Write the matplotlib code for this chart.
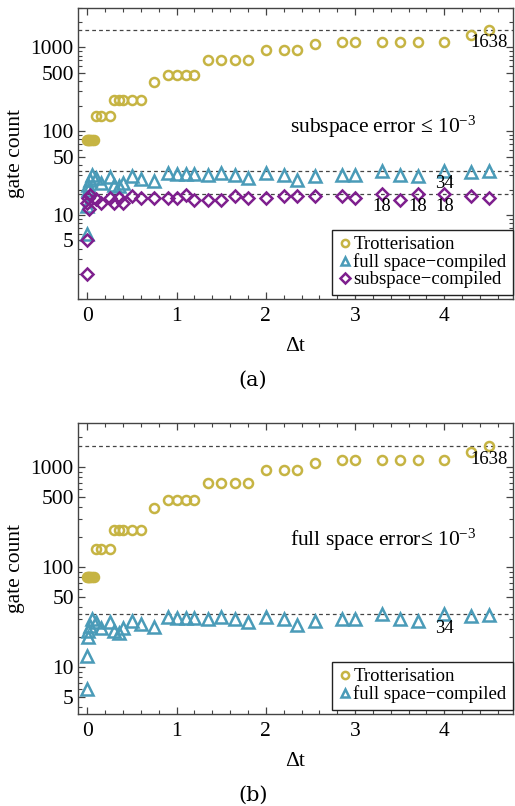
import matplotlib
matplotlib.use("Agg")
import matplotlib.pyplot as plt
from matplotlib.ticker import FixedLocator, NullFormatter, FixedFormatter

plt.rcParams['font.family'] = ['Liberation Serif', 'DejaVu Serif']
plt.rcParams['mathtext.fontset'] = 'custom'
plt.rcParams['mathtext.rm'] = 'Liberation Serif'
plt.rcParams['mathtext.it'] = 'Liberation Serif:italic'

# Trotterisation
trot_t = [0.0, 0.01, 0.02, 0.03, 0.05, 0.07, 0.1, 0.15, 0.25, 0.3, 0.35, 0.4, 0.5, 0.6,
          0.75, 0.9, 1.0, 1.1, 1.2, 1.35, 1.5, 1.65, 1.8, 2.0, 2.2, 2.35, 2.55, 2.85,
          3.0, 3.3, 3.5, 3.7, 4.0, 4.3, 4.5]
trot_n = [79, 79, 79, 79, 79, 79, 152, 152, 152, 234, 234, 234, 234, 234,
          387, 465, 465, 465, 465, 700, 700, 700, 700, 938, 938, 938, 1097, 1169,
          1169, 1169, 1169, 1169, 1169, 1415, 1638]

# full space-compiled
full_t = [0.0, 0.0, 0.005, 0.01, 0.025, 0.05, 0.1, 0.15, 0.25, 0.3, 0.35, 0.4, 0.5, 0.6,
          0.75, 0.9, 1.0, 1.1, 1.2, 1.35, 1.5, 1.65, 1.8, 2.0, 2.2, 2.35, 2.55, 2.85,
          3.0, 3.3, 3.5, 3.7, 4.0, 4.3, 4.5]
full_n = [6, 13, 20, 23, 26, 30.5, 28, 24.5, 28.5, 23, 22, 24.5, 29, 27,
          25.5, 32, 31, 31, 31, 30, 32, 30, 28, 32, 30, 26.5, 29, 30,
          30, 34, 30.5, 29, 34, 32.5, 33.5]

# subspace-compiled
sub_t = [0.0, 0.0, 0.0, 0.01, 0.02, 0.03, 0.1, 0.15, 0.25, 0.3, 0.35, 0.4, 0.5, 0.6,
         0.75, 0.9, 1.0, 1.1, 1.2, 1.35, 1.5, 1.65, 1.8, 2.0, 2.2, 2.35, 2.55, 2.85,
         3.0, 3.3, 3.5, 3.7, 4.0, 4.3, 4.5]
sub_n = [2, 5, 14, 16, 12, 17.5, 15.4, 14, 16, 14, 16, 14, 17, 16,
         16, 16, 16, 17.5, 15, 15, 15, 17, 16, 16, 17, 17, 17, 17,
         16, 18, 15, 18, 18, 17, 16]

gold = '#c6b443'
teal = '#4a9bb8'
purple = '#7e1f8e'

fig = plt.figure(figsize=(5.15, 8.06), dpi=100)
ax_a = fig.add_axes([78/515, 1-299/806, 435/515, 291.5/806])
ax_b = fig.add_axes([78/515, 1-714/806, 435/515, 290.7/806])


def style(ax, ylo, yhi):
    ax.set_yscale('log')
    ax.set_xlim(-0.105, 4.77)
    ax.set_ylim(ylo, yhi)
    ax.set_xticks([0, 1, 2, 3, 4])
    ax.set_xticks([i * 0.2 for i in range(24)], minor=True)
    ax.yaxis.set_major_locator(FixedLocator([5, 10, 50, 100, 500, 1000]))
    ax.yaxis.set_major_formatter(FixedFormatter(['5', '10', '50', '100', '500', '1000']))
    minors = [m * 10**d for d in range(0, 4) for m in range(1, 10)]
    ax.yaxis.set_minor_locator(FixedLocator(minors))
    ax.yaxis.set_minor_formatter(NullFormatter())
    ax.tick_params(which='both', direction='in', top=True, right=True,
                   labelsize=15.5, color='#444444')
    ax.tick_params(axis='y', pad=3)
    ax.tick_params(axis='x', pad=6)
    ax.tick_params(which='major', length=5, width=0.9)
    ax.tick_params(which='minor', length=3, width=0.8)
    for s in ax.spines.values():
        s.set_color('#444444')
        s.set_linewidth(1.0)
    ax.set_ylabel('gate count', fontsize=15.5, labelpad=4)
    ax.set_xlabel('Δt', fontsize=15.5, labelpad=8)


mk = dict(linestyle='none', mfc='none', mew=1.8)
leg = dict(loc='lower right', bbox_to_anchor=(1.0, 0.014), fontsize=13.5, frameon=True,
           fancybox=False, edgecolor='#222222', framealpha=1, handlelength=0.7,
           handletextpad=0.1, borderpad=0.35, labelspacing=0.0, borderaxespad=0,
           markerscale=0.8)

# panel (a)
style(ax_a, 1.0, 3000)
ax_a.plot(trot_t, trot_n, 'o', color=gold, ms=6.5, label='Trotterisation', **mk)
ax_a.plot(full_t, full_n, '^', color=teal, ms=8, label='full space\u2212compiled', **mk)
ax_a.plot(sub_t, sub_n, 'D', color=purple, ms=6, label='subspace\u2212compiled', **mk)
for v in [1638, 34, 18]:
    ax_a.axhline(v, color='#444444', lw=0.9, ls=(0, (3, 2.5)), zorder=1)
ax_a.annotate('1638', xy=(4.5, 1638), xytext=(0, -3), textcoords='offset points',
              ha='center', va='top', fontsize=13.5)
ax_a.annotate('34', xy=(4.0, 34), xytext=(0, -3), textcoords='offset points',
              ha='center', va='top', fontsize=13.5)
for x in [3.3, 3.7, 4.0]:
    ax_a.annotate('18', xy=(x, 18), xytext=(0, -3), textcoords='offset points',
                  ha='center', va='top', fontsize=13.5)
ax_a.text(0.487, 0.59, 'subspace error ≤ 10$^{-3}$', transform=ax_a.transAxes,
          ha='left', va='center', fontsize=15.5)
ax_a.legend(**leg)

# panel (b)
style(ax_b, 3.4, 2750)
ax_b.plot(trot_t, trot_n, 'o', color=gold, ms=6.5, label='Trotterisation', **mk)
ax_b.plot(full_t, full_n, '^', color=teal, ms=8, label='full space\u2212compiled', **mk)
for v in [1638, 34]:
    ax_b.axhline(v, color='#444444', lw=0.9, ls=(0, (3, 2.5)), zorder=1)
ax_b.annotate('1638', xy=(4.5, 1638), xytext=(0, -4), textcoords='offset points',
              ha='center', va='top', fontsize=13.5)
ax_b.annotate('34', xy=(4.0, 34), xytext=(0, -4), textcoords='offset points',
              ha='center', va='top', fontsize=13.5)
ax_b.text(0.487, 0.60, 'full space error≤ 10$^{-3}$', transform=ax_b.transAxes,
          ha='left', va='center', fontsize=15.5)
ax_b.legend(**leg)

fig.text(253/515, 1-380/806, '(a)', ha='center', va='center', fontsize=15,
         family=['DejaVu Serif'])
fig.text(253/515, 1-795/806, '(b)', ha='center', va='center', fontsize=15,
         family=['DejaVu Serif'])

fig.savefig('out.png', dpi=100)
